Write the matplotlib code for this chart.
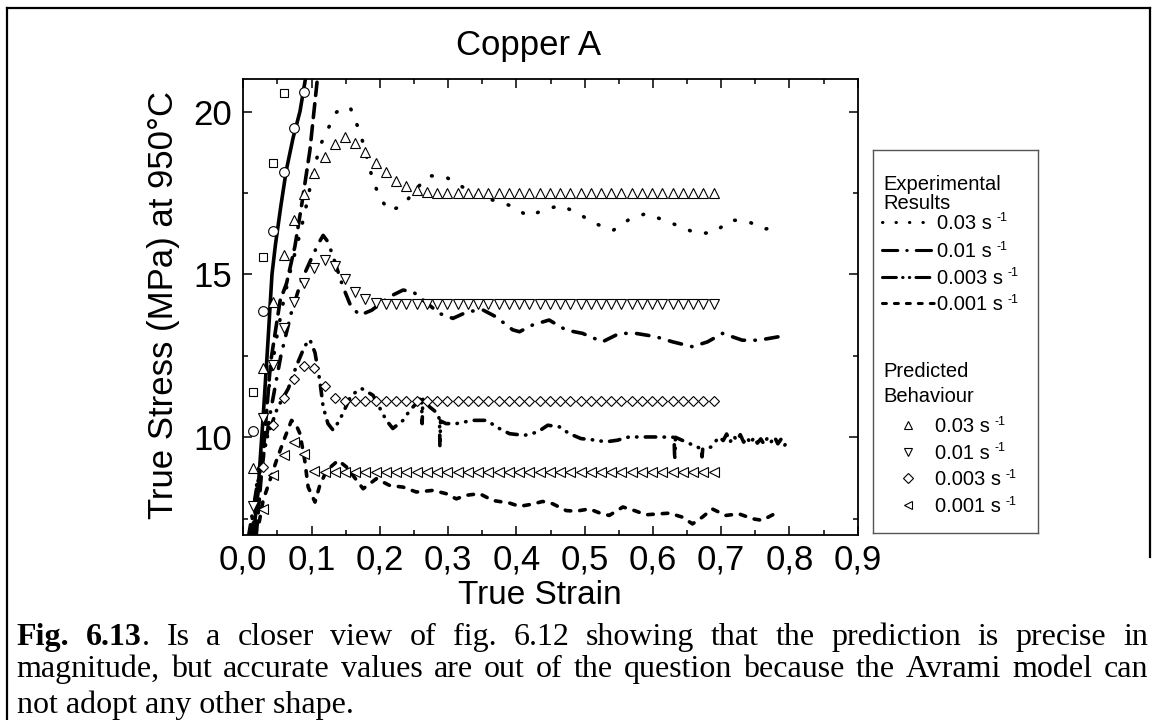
import matplotlib
matplotlib.use('Agg')
import matplotlib.pyplot as plt
from matplotlib.lines import Line2D
from matplotlib.ticker import MultipleLocator, FuncFormatter

plt.rcParams['font.family'] = ['Liberation Sans', 'DejaVu Sans']
plt.rcParams['lines.scale_dashes'] = False

# ---- predicted behaviour (Avrami model), common strain grid ----
pred_strain = [0.014, 0.029, 0.044, 0.059, 0.074, 0.089, 0.104, 0.119, 0.134, 0.149,
               0.164, 0.179, 0.194, 0.209, 0.224, 0.239, 0.254, 0.269, 0.284, 0.299,
               0.314, 0.329, 0.344, 0.359, 0.374, 0.389, 0.404, 0.419, 0.434, 0.449,
               0.464, 0.479, 0.494, 0.509, 0.524, 0.539, 0.554, 0.569, 0.584, 0.599,
               0.614, 0.629, 0.644, 0.659, 0.674, 0.689]
pred_003 = [9.06, 12.14, 14.16, 15.60, 16.68, 17.48, 18.11, 18.61, 19.01, 19.21,
            19.04, 18.75, 18.42, 18.13, 17.88, 17.70, 17.58, 17.52, 17.50, 17.50,
            17.50, 17.50, 17.50, 17.50, 17.50, 17.50, 17.50, 17.50, 17.50, 17.50,
            17.50, 17.50, 17.50, 17.50, 17.50, 17.50, 17.50, 17.50, 17.50, 17.50,
            17.50, 17.50, 17.50, 17.50, 17.50, 17.50]
pred_001 = [7.90, 10.58, 12.22, 13.35, 14.16, 14.75, 15.19, 15.45, 15.26, 14.85,
            14.45, 14.25, 14.12, 14.10, 14.10, 14.10, 14.10, 14.10, 14.10, 14.10,
            14.10, 14.10, 14.10, 14.10, 14.10, 14.10, 14.10, 14.10, 14.10, 14.10,
            14.10, 14.10, 14.10, 14.10, 14.10, 14.10, 14.10, 14.10, 14.10, 14.10,
            14.10, 14.10, 14.10, 14.10, 14.10, 14.10]
# these two start at the second grid point
pred_0003 = [9.09, 10.37, 11.22, 11.78, 12.18, 12.14, 11.57, 11.22, 11.12,
             11.10, 11.10, 11.10, 11.10, 11.10, 11.10, 11.10, 11.10, 11.10, 11.10,
             11.10, 11.10, 11.10, 11.10, 11.10, 11.10, 11.10, 11.10, 11.10, 11.10,
             11.10, 11.10, 11.10, 11.10, 11.10, 11.10, 11.10, 11.10, 11.10, 11.10,
             11.10, 11.10, 11.10, 11.10, 11.10, 11.10]
pred_0001 = [7.80, 8.83, 9.45, 9.86, 9.50, 8.98, 8.93, 8.93, 8.93,
             8.93, 8.93, 8.93, 8.93, 8.93, 8.93, 8.93, 8.93, 8.93, 8.93,
             8.93, 8.93, 8.93, 8.93, 8.93, 8.93, 8.93, 8.93, 8.93, 8.93,
             8.93, 8.93, 8.93, 8.93, 8.93, 8.93, 8.93, 8.93, 8.93, 8.93,
             8.93, 8.93, 8.93, 8.93, 8.93, 8.93]

# early-strain points (squares / circles)
sq_strain = [0.014, 0.029, 0.044, 0.059]
sq_stress = [11.39, 15.55, 18.42, 20.58]
ci_strain = [0.014, 0.029, 0.044, 0.059, 0.074, 0.089]
ci_stress = [10.20, 13.89, 16.32, 18.13, 19.51, 20.60]

# elastic loading curves
solid_strain = [0.015, 0.022, 0.029, 0.036, 0.042, 0.047, 0.055, 0.063, 0.073, 0.083, 0.091]
solid_stress = [7.0, 8.5, 10.6, 12.9, 15.0, 15.9, 17.1, 18.2, 19.2, 20.0, 21.0]
ldash_strain = [0.019, 0.030, 0.040, 0.054, 0.0634, 0.0756, 0.086, 0.0975, 0.108]
ldash_stress = [7.0, 9.7, 12.3, 14.2, 14.73, 15.86, 17.2, 18.8, 20.9]

# ---- experimental results ----
exp003_strain = [0.010, 0.020, 0.030, 0.040, 0.050, 0.060, 0.070, 0.080, 0.090, 0.100,
                 0.112, 0.124, 0.1365, 0.1475, 0.1575, 0.167, 0.1755, 0.1877, 0.197, 0.212,
                 0.233, 0.252, 0.272, 0.296, 0.320, 0.343, 0.368, 0.393, 0.418, 0.442,
                 0.466, 0.491, 0.517, 0.5415, 0.566, 0.590, 0.6155, 0.640, 0.665, 0.690,
                 0.7135, 0.738, 0.763, 0.7875]
exp003_stress = [7.0, 8.6, 10.3, 11.9, 13.2, 14.3, 15.2, 16.0, 16.88, 17.9,
                 18.93, 19.47, 19.98, 20.15, 20.08, 19.57, 19.04, 18.06, 17.5, 16.96,
                 17.09, 17.6, 18.03, 18.0, 17.7, 17.4, 17.27, 17.1, 16.78, 17.0,
                 17.12, 16.86, 16.55, 16.35, 16.70, 16.87, 16.67, 16.47, 16.25, 16.29,
                 16.67, 16.64, 16.39, 16.47]

exp001_strain = [0.012, 0.025, 0.040, 0.055, 0.070, 0.085, 0.100, 0.110, 0.117, 0.124,
                 0.1315, 0.146, 0.158, 0.171, 0.188, 0.2145, 0.234, 0.2485, 0.263, 0.2875,
                 0.307, 0.329, 0.351, 0.370, 0.3945, 0.4045, 0.424, 0.448, 0.473, 0.497,
                 0.526, 0.551, 0.575, 0.604, 0.629, 0.658, 0.680, 0.702, 0.731, 0.755,
                 0.785]
exp001_stress = [7.0, 8.8, 10.8, 12.5, 13.8, 14.8, 15.5, 15.95, 16.2, 16.0,
                 15.55, 14.62, 14.0, 13.75, 13.9, 14.32, 14.52, 14.47, 14.22, 13.8,
                 13.65, 13.86, 13.91, 13.7, 13.3, 13.24, 13.45, 13.6, 13.29, 13.19,
                 12.93, 13.19, 13.19, 13.09, 12.93, 12.78, 12.93, 13.19, 12.98, 12.98,
                 13.09]

exp0003_strain = [0.008, 0.020, 0.035, 0.050, 0.066, 0.078, 0.090, 0.0975, 0.105, 0.112,
                  0.117, 0.124, 0.1315, 0.141, 0.149, 0.158, 0.173, 0.190, 0.2095, 0.219,
                  0.234, 0.244, 0.258, 0.261, 0.262, 0.263, 0.273, 0.285, 0.2875, 0.288,
                  0.289, 0.297, 0.312, 0.336, 0.356, 0.375, 0.390, 0.412, 0.431, 0.446,
                  0.463, 0.4776, 0.4947, 0.5167, 0.531, 0.548, 0.565, 0.585, 0.609, 0.631,
                  0.632, 0.633, 0.648, 0.665, 0.671, 0.672, 0.673, 0.685, 0.697, 0.703,
                  0.708, 0.713, 0.718, 0.723, 0.728, 0.733, 0.738, 0.743, 0.748, 0.753,
                  0.758, 0.763, 0.768, 0.773, 0.778, 0.783, 0.788, 0.793, 0.797]
exp0003_stress = [7.0, 8.5, 10.0, 10.9, 11.5, 12.2, 12.8, 13.0, 12.6, 11.75,
                  10.93, 10.42, 10.22, 10.52, 10.88, 11.29, 11.5, 11.29, 10.52, 10.27,
                  10.52, 10.83, 11.14, 11.24, 10.42, 11.2, 10.93, 10.73, 10.52, 9.7,
                  10.5, 10.42, 10.42, 10.52, 10.52, 10.27, 10.11, 10.06, 10.16, 10.37,
                  10.32, 10.11, 9.96, 9.91, 9.86, 9.91, 10.01, 10.01, 10.01, 10.0,
                  9.29, 10.0, 9.86, 9.70, 9.65, 9.4, 9.65, 9.7, 10.01, 9.9,
                  10.1, 9.85, 10.05, 9.9, 10.08, 9.85, 10.0, 9.8, 10.0, 9.82,
                  9.95, 9.78, 10.0, 9.85, 10.02, 9.8, 9.95, 9.75, 9.9]

exp0001_strain = [0.015, 0.022, 0.029, 0.039, 0.0488, 0.061, 0.0707, 0.077, 0.083, 0.090,
                  0.095, 0.105, 0.112, 0.122, 0.139, 0.151, 0.166, 0.1755, 0.195, 0.2145,
                  0.234, 0.2535, 0.278, 0.297, 0.312, 0.327, 0.346, 0.3655, 0.390, 0.4045,
                  0.4216, 0.4386, 0.453, 0.473, 0.487, 0.507, 0.5215, 0.536, 0.556, 0.573,
                  0.590, 0.609, 0.624, 0.643, 0.658, 0.6725, 0.687, 0.7067, 0.726, 0.7456,
                  0.760, 0.780, 0.7873]
exp0001_stress = [7.0, 7.24, 8.06, 8.68, 9.3, 10.0, 10.52, 10.4, 10.11, 9.29,
                  8.47, 8.01, 8.52, 8.98, 9.29, 9.09, 8.68, 8.42, 8.73, 8.52,
                  8.47, 8.32, 8.37, 8.27, 8.11, 8.22, 8.27, 8.06, 7.98, 7.88,
                  7.94, 8.03, 7.96, 7.75, 7.73, 7.8, 7.68, 7.6, 7.86, 7.75,
                  7.62, 7.65, 7.67, 7.55, 7.34, 7.55, 7.8, 7.6, 7.65, 7.5,
                  7.45, 7.67, 7.7]

rate_labels = ['0.03 s', '0.01 s', '0.003 s', '0.001 s']

caption1 = "Is a closer view of fig. 6.12 showing that the prediction is precise in"
caption2 = "magnitude, but accurate values are out of the question because the Avrami model can"
caption3 = "not adopt any other shape."

# ---- styles (dash lengths in points, round caps) ----
LW = 2.6
ls_dot = (0, (0.5, 11.5))
ls_dashdot = (0, (9, 7.5, 0.3, 7.5))
ls_dashdotdot = (0, (7.5, 6, 0.3, 6, 0.3, 6))
ls_dash = (0, (4, 6.5))
ls_longdash = (0, (10, 6))
styles = [ls_dot, ls_dashdot, ls_dashdotdot, ls_dash]
leg_styles = [(0, (0.3, 9.4)), (0, (11, 6.5, 0.3, 6.5)),
              (0, (10, 4.5, 0.3, 4.5, 0.3, 4.5)), (0, (2.8, 5.8))]
markers = [('^', 7.5), ('v', 7.5), ('D', 5.6), ('<', 7.0)]

W, H = 1154, 720
fig = plt.figure(figsize=(W / 100, H / 100), dpi=100)


def fx(px):
    return px / W


def fy(py):
    return 1 - py / H


ax = fig.add_axes([fx(243.3), fy(535), (857.7 - 243.3) / W, (535 - 79) / H])
ax.set_xlim(0, 0.9)
ax.set_ylim(7, 21)

ax.plot(solid_strain, solid_stress, color='k', lw=LW, solid_capstyle='butt')
ax.plot(ldash_strain, ldash_stress, color='k', lw=LW, ls=ls_longdash, dash_capstyle='round')

exp = [(exp003_strain, exp003_stress), (exp001_strain, exp001_stress),
       (exp0003_strain, exp0003_stress), (exp0001_strain, exp0001_stress)]
for (xs, ys), ls in zip(exp, styles):
    ax.plot(xs, ys, color='k', lw=LW, ls=ls, dash_capstyle='round')

mk = dict(ls='none', mfc='white', mec='black', mew=0.8, zorder=3)
pred = [(pred_strain, pred_003), (pred_strain, pred_001),
        (pred_strain[1:], pred_0003), (pred_strain[1:], pred_0001)]
for (xs, ys), (m, ms) in zip(pred, markers):
    ax.plot(xs, ys, marker=m, ms=ms, **mk)
ax.plot(sq_strain, sq_stress, marker='s', ms=6, **mk)
ax.plot(ci_strain, ci_stress, marker='o', ms=7, **mk)

ax.xaxis.set_major_locator(MultipleLocator(0.1))
ax.xaxis.set_minor_locator(MultipleLocator(0.05))
ax.yaxis.set_major_locator(MultipleLocator(5))
ax.yaxis.set_minor_locator(MultipleLocator(2.5))
ax.xaxis.set_major_formatter(FuncFormatter(lambda v, p: f'{v:.1f}'.replace('.', ',')))
ax.yaxis.set_major_formatter(FuncFormatter(lambda v, p: f'{v:.0f}'))
ax.tick_params(which='both', direction='in', top=True, right=True, width=1.1)
ax.tick_params(which='major', length=6.5, labelsize=25, pad=6)
ax.tick_params(which='minor', length=3.5)
ax.tick_params(axis='y', pad=8)
for s in ax.spines.values():
    s.set_linewidth(1.3)

fig.text(fx(529), fy(55), 'Copper A', fontsize=25, ha='center', va='baseline')
fig.text(fx(540), fy(604), 'True Strain', fontsize=24, ha='center', va='baseline')
fig.text(fx(163), fy(305), 'True Stress (MPa) at 950°C', fontsize=25,
         rotation=90, ha='center', va='center')

# ---- legend box ----
lg = fig.add_axes([fx(873), fy(533), (1038 - 873) / W, (533 - 150) / H])
lg.set_xlim(873, 1038)
lg.set_ylim(533, 150)
lg.set_xticks([])
lg.set_yticks([])
for s in lg.spines.values():
    s.set_linewidth(1.0)
    s.set_color('#555555')
LFS = 14.5


def rate_text(x, y, label):
    t = lg.text(x, y + 7, label, fontsize=LFS, va='baseline', ha='left')
    lg.annotate('-1', xy=(1, 1), xycoords=t, xytext=(3.5, 1), textcoords='offset points',
                fontsize=9, va='top', ha='left')


lg.text(883, 190, 'Experimental', fontsize=LFS, va='baseline')
lg.text(883, 209, 'Results', fontsize=LFS, va='baseline')
for y, ls, lab in zip([221.7, 250, 276.7, 303.3], leg_styles, rate_labels):
    lg.plot([882, 934], [y, y], color='k', lw=2.2, ls=ls, dash_capstyle='round')
    rate_text(937, y, lab)
lg.text(883, 377, 'Predicted', fontsize=LFS, va='baseline')
lg.text(883, 402, 'Behaviour', fontsize=LFS, va='baseline')
for y, (m, ms), lab in zip([425, 451.7, 478.3, 505], markers, rate_labels):
    lg.plot([908], [y], marker=m, ms=ms * 0.85, **mk)
    rate_text(935, y, lab)

# ---- frame lines ----
for xs, ys in [([7, 7], [8, 720]), ([7, 1150], [8, 8]), ([1150, 1150], [8, 557])]:
    fig.add_artist(Line2D([fx(v) for v in xs], [fy(v) for v in ys],
                          transform=fig.transFigure, color='k', lw=1.6))

# ---- caption, justified ----
CFS = 23
serif = ['Liberation Serif', 'DejaVu Serif']
fig.canvas.draw()
rend = fig.canvas.get_renderer()


def justified(tokens, y, x0, x1):
    groups = []
    total = 0
    for tok in tokens:
        parts = []
        for s, wt in tok:
            t = fig.text(0, fy(y), s, fontsize=CFS, family=serif, weight=wt,
                         va='baseline', ha='left')
            w = t.get_window_extent(rend).width
            parts.append((t, w))
            total += w
        groups.append(parts)
    gap = (x1 - x0 - total) / (len(groups) - 1)
    x = x0
    for parts in groups:
        for t, w in parts:
            t.set_x(fx(x))
            x += w
        x += gap


line1 = [[('Fig.', 'bold')], [('6.13', 'bold'), ('.', 'normal')]]
line1 += [[(wd, 'normal')] for wd in caption1.split()]
justified(line1, 645, 16.7, 1148)
justified([[(wd, 'normal')] for wd in caption2.split()], 677, 16.7, 1148)
fig.text(fx(16.7), fy(713), caption3, fontsize=CFS, family=serif, va='baseline', ha='left')

fig.savefig('out.png', dpi=100)
